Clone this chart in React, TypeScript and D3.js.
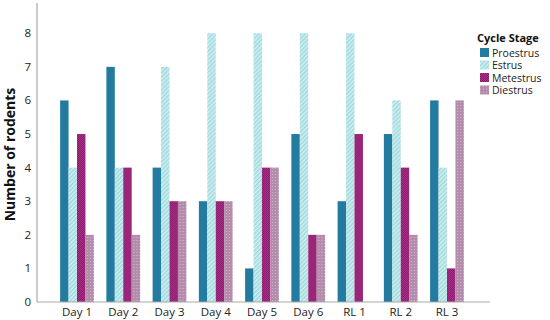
import { useRef, useEffect } from "react";
import * as d3 from "d3";

const categories = ["Day 1", "Day 2", "Day 3", "Day 4", "Day 5", "Day 6", "RL 1", "RL 2", "RL 3"];
const stages = ["Proestrus", "Estrus", "Metestrus", "Diestrus"];
const proestrus = [6, 7, 4, 3, 1, 5, 3, 5, 6];
const estrus = [4, 4, 7, 8, 8, 8, 8, 6, 4];
const metestrus = [5, 4, 3, 3, 4, 2, 5, 4, 1];
const diestrus = [2, 2, 3, 3, 4, 2, 0, 2, 6];
const yTicks = [0, 1, 2, 3, 4, 5, 6, 7, 8];

const W = 550;
const H = 320;
const margin = { left: 37, right: 60, top: 3, bottom: 18 };
const FONT = "'Open Sans', 'DejaVu Sans', sans-serif";

export default function App() {
    const svgRef = useRef<SVGSVGElement>(null);

    useEffect(() => {
        const svg = d3.select(svgRef.current as SVGSVGElement);
        svg.selectAll("*").remove();

        const series = [proestrus, estrus, metestrus, diestrus];
        const fills = ["#237ba0", "url(#pEstrus)", "url(#pMet)", "url(#pDie)"];

        // patterns
        const defs = svg.append("defs");
        const pe = defs.append("pattern").attr("id", "pEstrus")
            .attr("patternUnits", "userSpaceOnUse").attr("width", 3).attr("height", 3)
            .attr("patternTransform", "rotate(45)");
        pe.append("rect").attr("width", 3).attr("height", 3).attr("fill", "#d2eff1");
        pe.append("rect").attr("width", 1.5).attr("height", 3).attr("fill", "#9fd9de");

        const pm = defs.append("pattern").attr("id", "pMet")
            .attr("patternUnits", "userSpaceOnUse").attr("width", 2).attr("height", 2);
        pm.append("rect").attr("width", 2).attr("height", 2).attr("fill", "#8a1768");
        pm.append("rect").attr("width", 1).attr("height", 1).attr("fill", "#a8358a");
        pm.append("rect").attr("x", 1).attr("y", 1).attr("width", 1).attr("height", 1).attr("fill", "#a8358a");

        const pd = defs.append("pattern").attr("id", "pDie")
            .attr("patternUnits", "userSpaceOnUse").attr("width", 3).attr("height", 3);
        pd.append("rect").attr("width", 3).attr("height", 3).attr("fill", "#b48cab");
        pd.append("rect").attr("width", 1).attr("height", 1).attr("fill", "#d3b8cc");

        const x = d3.scaleBand<string>()
            .domain(categories)
            .range([margin.left, W - margin.right - 3])
            .paddingInner(0.27)
            .paddingOuter(0.5);

        const xs = d3.scaleBand<string>()
            .domain(stages)
            .range([0, x.bandwidth()]);

        const y = d3.scaleLinear()
            .domain([0, 8.9])
            .range([H - margin.bottom, margin.top]);

        // bars
        const groups = svg.append("g")
            .selectAll("g")
            .data(categories)
            .join("g")
            .attr("transform", d => `translate(${x(d)},0)`);

        groups.selectAll("rect")
            .data((d, i) => stages.map((s, j) => ({ s, j, v: series[j][i] })))
            .join("rect")
            .attr("x", d => xs(d.s) as number)
            .attr("width", xs.bandwidth())
            .attr("y", d => y(d.v))
            .attr("height", d => y(0) - y(d.v))
            .attr("fill", d => fills[d.j]);

        // axes
        svg.append("line")
            .attr("x1", margin.left).attr("x2", margin.left)
            .attr("y1", margin.top).attr("y2", y(0))
            .attr("stroke", "#aaaaaa").attr("stroke-width", 1.2);
        svg.append("line")
            .attr("x1", margin.left).attr("x2", W - margin.right)
            .attr("y1", y(0)).attr("y2", y(0))
            .attr("stroke", "#aaaaaa").attr("stroke-width", 1.2);

        svg.append("g")
            .selectAll("text")
            .data(yTicks)
            .join("text")
            .attr("x", margin.left - 6)
            .attr("y", d => y(d))
            .attr("dy", "0.35em")
            .attr("text-anchor", "end")
            .attr("font-family", FONT)
            .attr("font-size", 11.5)
            .attr("fill", "#222")
            .text(d => d);

        svg.append("g")
            .selectAll("text")
            .data(categories)
            .join("text")
            .attr("x", d => (x(d) as number) + x.bandwidth() / 2)
            .attr("y", y(0) + 14)
            .attr("text-anchor", "middle")
            .attr("font-family", FONT)
            .attr("font-size", 11.5)
            .attr("fill", "#222")
            .text(d => d);

        svg.append("text")
            .attr("transform", `translate(15,${(margin.top + y(0)) / 2 + 2}) rotate(-90)`)
            .attr("text-anchor", "middle")
            .attr("font-family", FONT)
            .attr("font-size", 14)
            .attr("font-weight", "bold")
            .attr("fill", "#111")
            .text("Number of rodents");

        // legend
        const lg = svg.append("g").attr("transform", "translate(477,0)");
        lg.append("text")
            .attr("x", 0).attr("y", 42)
            .attr("font-family", FONT)
            .attr("font-size", 11)
            .attr("font-weight", "bold")
            .attr("fill", "#111")
            .text("Cycle Stage");
        const items = lg.selectAll("g.item")
            .data(stages)
            .join("g")
            .attr("class", "item")
            .attr("transform", (d, i) => `translate(3,${48 + i * 12.5})`);
        items.append("rect")
            .attr("width", 9).attr("height", 9)
            .attr("fill", (d, i) => fills[i]);
        items.append("text")
            .attr("x", 12).attr("y", 8.5)
            .attr("font-family", FONT)
            .attr("font-size", 10.5)
            .attr("fill", "#222")
            .text(d => d);
    }, []);

    return (
        <svg ref={svgRef} width={W} height={H}
            style={{ display: "block", position: "fixed", left: 0, top: 0, background: "#fff" }} />
    );
}
